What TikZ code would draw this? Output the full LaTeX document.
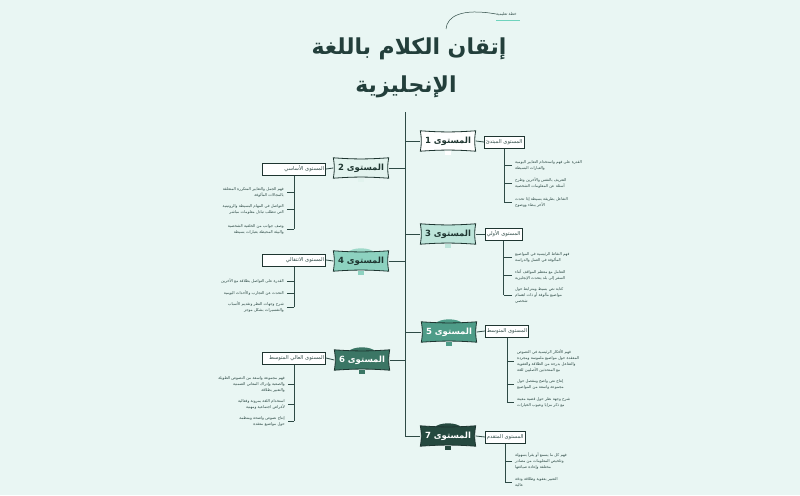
\documentclass[tikz,border=0pt]{standalone}
\usepackage{fontspec}
\newfontfamily\arabicfont[Script=Arabic]{DejaVu Sans}
\TeXXeTstate=1
\newcommand{\ar}[1]{{\arabicfont\beginR #1\endR}}
\newcommand{\lv}[1]{{\arabicfont #1\hspace{3pt}\beginR المستوى\endR}}
\definecolor{bgc}{HTML}{E9F6F3}
\definecolor{linec}{HTML}{2E4A45}
\definecolor{borderc}{HTML}{1E3530}
\definecolor{titlec}{HTML}{233F3B}
\definecolor{notec}{HTML}{2D4A45}
\definecolor{fa}{HTML}{FFFFFF}
\definecolor{fb}{HTML}{E2F3EE}
\definecolor{fc}{HTML}{BDE5DA}
\definecolor{fd}{HTML}{8DD2C0}
\definecolor{fe}{HTML}{4E9C88}
\definecolor{ff}{HTML}{3B7665}
\definecolor{fg}{HTML}{25493F}
\definecolor{deco}{HTML}{6FD3BD}
\pgfdeclarelayer{back}
\pgfdeclarelayer{mid}
\pgfsetlayers{back,mid,main}
\tikzset{
  lvl/.style={minimum width=55pt, minimum height=20pt, inner sep=0pt,
    font=\bfseries\fontsize{8.5}{10}\selectfont},
  subr/.style={draw=borderc, fill=white, line width=0.6pt, minimum height=12pt,
    inner sep=1.5pt, anchor=west, font=\fontsize{5.2}{6}\selectfont, text=notec},
  subl/.style={draw=borderc, fill=white, line width=0.6pt, minimum height=12pt,
    inner sep=1.5pt, anchor=east, text width=60pt, align=right,
    font=\fontsize{5.2}{6}\selectfont, text=notec},
  noter/.style={inner sep=0pt, anchor=west, align=left,
    font=\fontsize{3.9}{6}\selectfont, text=notec},
  notel/.style={inner sep=0pt, anchor=east, align=right,
    font=\fontsize{3.9}{6}\selectfont, text=notec},
  conn/.style={draw=linec, line width=0.8pt},
  branch/.style={draw=linec, line width=0.7pt},
  tick/.style={draw=linec, line width=1pt},
}
\newcommand{\lvlshape}[2]{%
  \draw[line width=0.8pt, draw=borderc, fill=#2]
    (#1.north west) to[bend right=4] (#1.north east)
    to[bend right=10] (#1.south east) to[bend right=4] (#1.south west)
    to[bend right=10] cycle;}
\newcommand{\lvltab}[2]{%
  \fill[#2] ([xshift=-3pt]#1.south) rectangle ([xshift=3pt,yshift=-3.5pt]#1.south);}
\newcommand{\lvlorn}[2]{%
  \fill[#2] ([xshift=-14pt,yshift=-2pt]#1.north) .. controls ([xshift=-9pt,yshift=4pt]#1.north) and ([xshift=9pt,yshift=4pt]#1.north) .. ([xshift=14pt,yshift=-2pt]#1.north) -- cycle;}
\begin{document}
\begin{tikzpicture}[x=1pt,y=-1pt]
\path[use as bounding box] (0,0) rectangle (800,495);

% title
\node[text=titlec, font=\bfseries\fontsize{22}{26}\selectfont] (title1) at (409,49) {\ar{إتقان الكلام باللغة}};
\node[text=titlec, font=\bfseries\fontsize{22}{26}\selectfont] (title2) at (406,87) {\ar{الإنجليزية}};

% top decoration
\node[inner sep=0pt, text=notec, font=\fontsize{4}{5}\selectfont, anchor=west] (sig) at (496,14) {\ar{خطة تعليمية}};
\coordinate (cstart) at (446,29);

% level nodes
\node[lvl, text=borderc] (L1) at (448,141) {\lv{1}};
\node[lvl, text=borderc] (L2) at (361,168) {\lv{2}};
\node[lvl, text=borderc] (L3) at (448,234) {\lv{3}};
\node[lvl, text=borderc] (L4) at (361,261) {\lv{4}};
\node[lvl, text=white] (L5) at (449,332) {\lv{5}};
\node[lvl, text=white] (L6) at (362,360) {\lv{6}};
\node[lvl, text=white] (L7) at (448,436) {\lv{7}};

% sub boxes
\node[subr] (S1) at (484,142) {\ar{المستوى المبتدئ}};
\node[subr] (S3) at (485,234) {\ar{المستوى الأولي}};
\node[subr] (S5) at (485,331) {\ar{المستوى المتوسط}};
\node[subr] (S7) at (485,437) {\ar{المستوى المتقدم}};
\node[subl] (S2) at (326,169) {\ar{المستوى الأساسي}};
\node[subl] (S4) at (326,260) {\ar{المستوى الانتقالي}};
\node[subl] (S6) at (326,358) {\ar{المستوى العالي المتوسط}};

% notes right
\node[noter] (n11) at (515,165) {\ar{القدرة على فهم واستخدام التعابير اليومية}\\\ar{والعبارات البسيطة}};
\node[noter] (n12) at (515,183) {\ar{التعريف بالنفس والآخرين وطرح}\\\ar{أسئلة عن المعلومات الشخصية}};
\node[noter] (n13) at (515,202) {\ar{التفاعل بطريقة بسيطة إذا تحدث}\\\ar{الآخر ببطء ووضوح}};
\node[noter] (n31) at (515,257) {\ar{فهم النقاط الرئيسية في المواضيع}\\\ar{المألوفة في العمل والدراسة}};
\node[noter] (n32) at (515,275) {\ar{التعامل مع معظم المواقف أثناء}\\\ar{السفر إلى بلد يتحدث الإنجليزية}};
\node[noter] (n33) at (515,295) {\ar{كتابة نص بسيط ومترابط حول}\\\ar{مواضيع مألوفة أو ذات اهتمام}\\\ar{شخصي}};
\node[noter] (n51) at (517,361) {\ar{فهم الأفكار الرئيسية في النصوص}\\\ar{المعقدة حول مواضيع ملموسة ومجردة}\\\ar{والتفاعل بدرجة من الطلاقة والعفوية}\\\ar{مع المتحدثين الأصليين للغة}};
\node[noter] (n52) at (517,384) {\ar{إنتاج نص واضح ومفصل حول}\\\ar{مجموعة واسعة من المواضيع}};
\node[noter] (n53) at (517,402) {\ar{شرح وجهة نظر حول قضية معينة}\\\ar{مع ذكر مزايا وعيوب الخيارات}};
\node[noter] (n71) at (515,461) {\ar{فهم كل ما يسمع أو يقرأ بسهولة}\\\ar{وتلخيص المعلومات من مصادر}\\\ar{مختلفة وإعادة صياغتها}};
\node[noter] (n72) at (515,482) {\ar{التعبير بعفوية وطلاقة ودقة}\\\ar{عالية}};

% notes left
\node[notel] (n21) at (284,192) {\ar{فهم الجمل والتعابير المتكررة المتعلقة}\\\ar{بالمجالات المألوفة}};
\node[notel] (n22) at (284,209) {\ar{التواصل في المهام البسيطة والروتينية}\\\ar{التي تتطلب تبادل معلومات مباشر}};
\node[notel] (n23) at (284,229) {\ar{وصف جوانب من الخلفية الشخصية}\\\ar{والبيئة المحيطة بعبارات بسيطة}};
\node[notel] (n41) at (284,281) {\ar{القدرة على التواصل بطلاقة مع الآخرين}};
\node[notel] (n42) at (284,293) {\ar{التحدث عن التجارب والأحداث اليومية}};
\node[notel] (n43) at (284,307) {\ar{شرح وجهات النظر وتقديم الأسباب}\\\ar{والتفسيرات بشكل موجز}};
\node[notel] (n61) at (285,384) {\ar{فهم مجموعة واسعة من النصوص الطويلة}\\\ar{والصعبة وإدراك المعاني الضمنية}\\\ar{والتعبير بطلاقة}};
\node[notel] (n62) at (285,404) {\ar{استخدام اللغة بمرونة وفعالية}\\\ar{لأغراض اجتماعية ومهنية}};
\node[notel] (n63) at (285,421) {\ar{إنتاج نصوص واضحة ومنظمة}\\\ar{حول مواضيع معقدة}};

\coordinate (trunkTop) at (405,112);
\coordinate (trunkBot) at (405,436);

\begin{pgfonlayer}{back}
\fill[bgc] (0,0) rectangle (800,495);
% decoration curve
\draw[linec, line width=0.5pt] (cstart) .. controls (447,16) and (462,8) .. (sig.west);
\draw[deco, line width=0.8pt] ([yshift=-4pt]sig.south west) -- ([xshift=3pt,yshift=-4pt]sig.south east);
% trunk
\draw[conn] (trunkTop) -- (trunkBot) -- (L7.west);
\draw[conn] (trunkTop |- L1.west) -- (L1.west);
\draw[conn] (trunkTop |- L3.west) -- (L3.west);
\draw[conn] (trunkTop |- L5.west) -- (L5.west);
\draw[conn] (L2.east) -- (trunkTop |- L2.east);
\draw[conn] (L4.east) -- (trunkTop |- L4.east);
\draw[conn] (L6.east) -- (trunkTop |- L6.east);
% node to sub
\draw[conn] (L1.east) -- (S1.west);
\draw[conn] (L3.east) -- (S3.west);
\draw[conn] (L5.east) -- (S5.west);
\draw[conn] (L7.east) -- (S7.west);
\draw[conn] (L2.west) -- (S2.east);
\draw[conn] (L4.west) -- (S4.east);
\draw[conn] (L6.west) -- (S6.east);
% branches right
\foreach \s/\last in {S1/n13, S3/n33, S5/n53, S7/n72}{
  \draw[branch] (\s.south) -- (\s.south |- \last.west);}
\foreach \s/\n in {S1/n11, S1/n12, S1/n13, S3/n31, S3/n32, S3/n33, S5/n51, S5/n52, S5/n53, S7/n71, S7/n72}{
  \draw[tick] (\s.south |- \n.west) -- ([xshift=-3pt]\n.west);}
% branches left
\foreach \s/\last in {S2/n23, S4/n43, S6/n63}{
  \draw[branch] (\s.south) -- (\s.south |- \last.east);}
\foreach \s/\n in {S2/n21, S2/n22, S2/n23, S4/n41, S4/n42, S4/n43, S6/n61, S6/n62, S6/n63}{
  \draw[tick] (\s.south |- \n.east) -- ([xshift=3pt]\n.east);}
\end{pgfonlayer}

\begin{pgfonlayer}{mid}
\lvlorn{L4}{fd!85!white}
\lvlorn{L5}{fe}
\lvlorn{L6}{ff}
\lvlorn{L7}{fg}
\lvltab{L1}{fa}
\lvltab{L2}{fb}
\lvltab{L3}{fc}
\lvltab{L4}{fd}
\lvltab{L5}{fe}
\lvltab{L6}{ff}
\lvltab{L7}{fg}
\lvlshape{L1}{fa}
\lvlshape{L2}{fb}
\lvlshape{L3}{fc}
\lvlshape{L4}{fd}
\lvlshape{L5}{fe}
\lvlshape{L6}{ff}
\lvlshape{L7}{fg}
\end{pgfonlayer}
\end{tikzpicture}
\end{document}
